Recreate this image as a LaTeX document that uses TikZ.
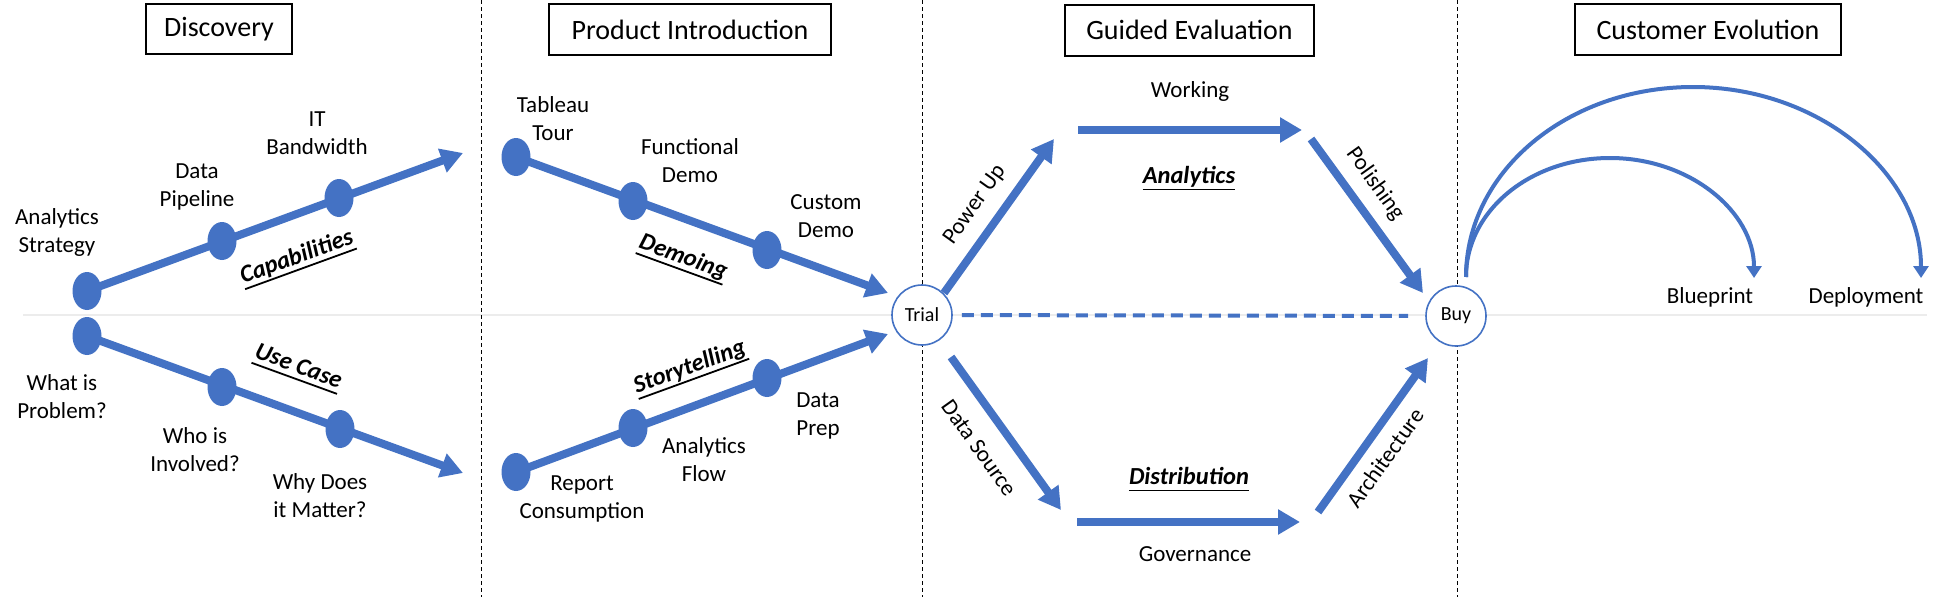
\documentclass[tikz,border=0pt]{standalone}
\usepackage{fontspec}
\setmainfont{Carlito}
\usetikzlibrary{arrows.meta,shapes.geometric}
\definecolor{ob}{HTML}{4472C4}
\begin{document}
\begin{tikzpicture}[x=1pt,y=-1pt,
  titlebox/.style={draw=black,line width=2pt,font=\fontsize{28}{34}\selectfont,inner sep=0pt},
  lbl/.style={font=\fontsize{23}{28}\selectfont,align=center,inner sep=0pt},
  emphlbl/.style={font=\fontsize{24.5}{30}\selectfont\bfseries\itshape,inner sep=0pt,
    text depth=5.5pt,
    append after command={(\tikzlastnode.south west) edge[draw=black,line width=1.8pt,-] (\tikzlastnode.south east)}},
  dotnode/.style={ellipse,fill=ob,minimum width=29pt,minimum height=38pt,inner sep=0pt},
  fatarrow/.style={ob,line width=8pt,-{Triangle[length=22pt,width=24pt]}},
  thinarc/.style={ob,line width=4pt,-{Triangle[length=12pt,width=15pt]}},
  sepline/.style={black,line width=1pt,dash pattern=on 4pt off 3pt},
  stage/.style={circle,draw=ob,line width=1.6pt,fill=white,minimum size=60pt,inner sep=0pt,font=\fontsize{20}{24}\selectfont}
]
\useasboundingbox (0,0) rectangle (1939,605);
\fill[white] (0,0) rectangle (1939,605);

% faint horizontal guide and separators
\draw[gray!15,line width=1.2pt] (23,315) -- (1927,315);
\draw[sepline] (481,0) -- (481,597);
\draw[sepline] (922,0) -- (922,597);
\draw[sepline] (1457,0) -- (1457,597);

% titles
\node[titlebox,minimum width=146pt,minimum height=50pt] (tdisc) at (219,29) {Discovery};
\node[titlebox,minimum width=282pt,minimum height=51pt] (tprod) at (690,29.5) {Product Introduction};
\node[titlebox,minimum width=249pt,minimum height=51pt] (tguid) at (1189.5,30) {Guided Evaluation};
\node[titlebox,minimum width=266pt,minimum height=51pt] (tcust) at (1708,29.5) {Customer Evolution};

% ---------- Discovery ----------
\coordinate (t1) at (463,153);
\coordinate (t2) at (463,473);
\node[dotnode] (d11) at (87,291) {};
\node[dotnode] (d12) at (222,241) {};
\node[dotnode] (d13) at (339,198) {};
\node[dotnode] (d21) at (87,336) {};
\node[dotnode] (d22) at (222,387) {};
\node[dotnode] (d23) at (340,429) {};
\draw[fatarrow] (d11.center) -- (t1);
\draw[fatarrow] (d21.center) -- (t2);

\node[lbl] (l11) at (57,232) {Analytics\\Strategy};
\node[lbl] (l12) at (197,187) {Data\\Pipeline};
\node[lbl] (l13) at (317,133) {IT\\Bandwidth};
\node[emphlbl,rotate=20] (cap) at (297,258) {Capabilities};
\node[lbl] (l21) at (62,397) {What is\\Problem?};
\node[lbl] (l22) at (195,450) {Who is\\Involved?};
\node[lbl] (l23) at (320,496) {Why Does\\it Matter?};
\node[emphlbl,rotate=-20] (usec) at (298,368) {Use Case};

% ---------- Product Introduction ----------
\coordinate (t3) at (888,293);
\coordinate (t4) at (888,334);
\node[dotnode] (p11) at (516,157) {};
\node[dotnode] (p12) at (633,201) {};
\node[dotnode] (p13) at (767,250) {};
\node[dotnode] (p21) at (516,472) {};
\node[dotnode] (p22) at (633,428) {};
\node[dotnode] (p23) at (767,378) {};
\draw[fatarrow] (p11.center) -- (t3);
\draw[fatarrow] (p21.center) -- (t4);

\node[lbl] (m11) at (553,119) {Tableau\\Tour};
\node[lbl] (m12) at (690,161) {Functional\\Demo};
\node[lbl] (m13) at (826,216) {Custom\\Demo};
\node[emphlbl,rotate=-20] (demo) at (683,258) {Demoing};
\node[lbl] (m21) at (582,499) {Report\\Consumption};
\node[lbl] (m22) at (704,460) {Analytics\\Flow};
\node[lbl] (m23) at (818,416) {Data\\Prep};
\node[emphlbl,rotate=20] (story) at (690,368) {Storytelling};

% ---------- Guided Evaluation ----------
\node[stage] (trial) at (922,315) {Trial};
\node[stage] (buy) at (1456,316) {Buy};
\draw[ob,line width=4pt,dash pattern=on 12pt off 7pt,shorten <=9pt,shorten >=17pt] (trial) -- (buy);

\coordinate (pu1) at (944,293);
\coordinate (pu2) at (1054,139);
\coordinate (wk1) at (1078,130);
\coordinate (wk2) at (1302,130);
\coordinate (po1) at (1311,139);
\coordinate (po2) at (1423,293);
\coordinate (ds1) at (951,357);
\coordinate (ds2) at (1061,510);
\coordinate (gv1) at (1077,522);
\coordinate (gv2) at (1300,522);
\coordinate (ar1) at (1318,512);
\coordinate (ar2) at (1428,358);
\draw[fatarrow] (pu1) -- (pu2);
\draw[fatarrow] (wk1) -- (wk2);
\draw[fatarrow] (po1) -- (po2);
\draw[fatarrow] (ds1) -- (ds2);
\draw[fatarrow] (gv1) -- (gv2);
\draw[fatarrow] (ar1) -- (ar2);

\node[lbl,rotate=54.5] (gpu) at (975,205) {Power Up};
\node[lbl] (gwk) at (1190,91) {Working};
\node[emphlbl] (gan) at (1189,178) {Analytics};
\node[lbl,rotate=-54.5] (gpo) at (1375,184) {Polishing};
\node[lbl,rotate=-54.5] (gds) at (979,448) {Data Source};
\node[emphlbl] (gdi) at (1189,479) {Distribution};
\node[lbl] (ggv) at (1195,554) {Governance};
\node[lbl,rotate=54.5] (gar) at (1385,458) {Architecture};

% ---------- Customer Evolution ----------
\node[lbl] (blue) at (1710,297) {Blueprint};
\node[lbl] (depl) at (1866,297) {Deployment};
\coordinate (bs) at (1466,277);
\coordinate (be1) at (1754,278);
\coordinate (be2) at (1921,278);
\draw[thinarc] (bs) .. controls (1466,211) and (1530,158) .. (1610,158)
  .. controls (1690,158) and (1754,212) .. (be1);
\draw[thinarc] (bs) .. controls (1466,172) and (1567,87) .. (1693,87)
  .. controls (1819,87) and (1921,173) .. (be2);
\end{tikzpicture}
\end{document}
